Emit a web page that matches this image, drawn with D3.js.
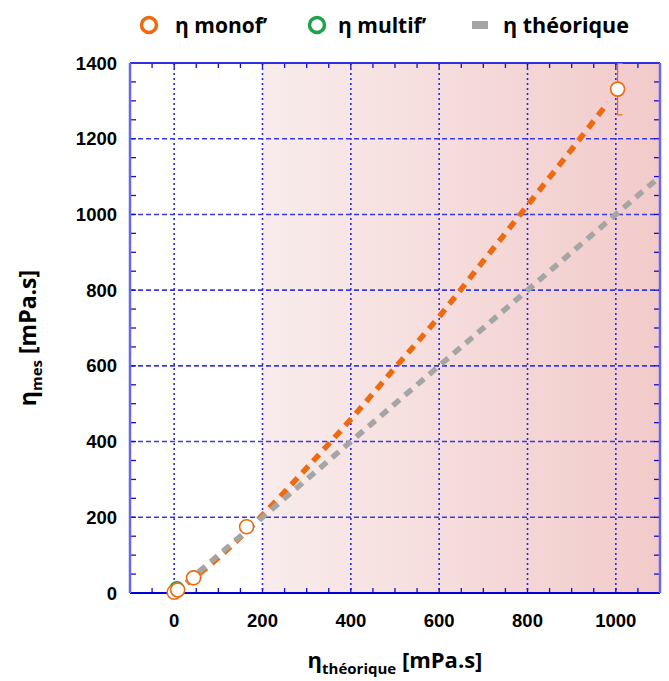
<!DOCTYPE html>
<html>
<head>
<meta charset="utf-8">
<script src="https://cdn.jsdelivr.net/npm/d3@7"></script>
<style>
  body { margin: 0; background: #fff; }
  text { font-family: "Liberation Sans", Arial, sans-serif; }
  .lbl { font-family: "Open Sans", "Noto Sans", sans-serif; font-weight: bold; }
</style>
</head>
<body>
<div id="chart"></div>
<script>
// fitted curve for monof'
var fitX = [0, 100, 200, 300, 400, 500, 600, 700, 800, 900, 982]
var fitY = [0, 93, 206, 330, 459, 595, 730, 877, 1024, 1172, 1295]
// theoretical line y = x
var theoX = [0, 1100]
var theoY = [0, 1100]
// measured points
var monoX = [0, 8, 44, 164, 1004]
var monoY = [2, 8, 40, 175, 1331]
var monoErr = [0, 0, 0, 0, 68]
var multiX = [6]
var multiY = [11]
var xTicks = [0, 200, 400, 600, 800, 1000]
var yTicks = [0, 200, 400, 600, 800, 1000, 1200, 1400]
var shadeFrom = 200

var W = 669, H = 681
var margin = {top: 63, right: 9, bottom: 88, left: 130},
  width = W - margin.left - margin.right,
  height = H - margin.top - margin.bottom

var svg = d3.select("#chart").append("svg")
  .attr("width", W).attr("height", H)

var defs = svg.append("defs")
var grad = defs.append("linearGradient").attr("id", "shade")
  .attr("x1", "0%").attr("x2", "100%").attr("y1", "0%").attr("y2", "0%")
grad.append("stop").attr("offset", "0%").attr("stop-color", "#f9ecec")
grad.append("stop").attr("offset", "100%").attr("stop-color", "#f2caca")
defs.append("clipPath").attr("id", "clip").append("rect")
  .attr("width", width).attr("height", height)

var g = svg.append("g")
  .attr("transform", "translate(" + margin.left + "," + margin.top + ")")

var x = d3.scaleLinear().domain([-100, 1100]).range([0, width])
var y = d3.scaleLinear().domain([0, 1400]).range([height, 0])

// shaded background
g.append("rect")
  .attr("x", x(shadeFrom)).attr("y", 0)
  .attr("width", x(1100) - x(shadeFrom)).attr("height", height)
  .style("fill", "url(#shade)")

// gridlines
g.selectAll(".vgrid").data(xTicks).enter().append("line")
  .attr("x1", d => x(d)).attr("x2", d => x(d))
  .attr("y1", 0).attr("y2", height)
  .style("stroke", "#2a2ad8").style("stroke-width", 1.6)
  .style("stroke-dasharray", "2,3")
g.selectAll(".hgrid").data(yTicks.filter(d => d > 0 && d < 1400)).enter().append("line")
  .attr("x1", 0).attr("x2", width)
  .attr("y1", d => y(d)).attr("y2", d => y(d))
  .style("stroke", "#3a3ae0").style("stroke-width", 1.6)
  .style("stroke-dasharray", "5,3")

// minor ticks
var xMinor = d3.range(-100, 1101, 50)
var yMinor = d3.range(0, 1401, 50)
g.selectAll(".xb").data(xMinor).enter().append("line")
  .attr("x1", d => x(d)).attr("x2", d => x(d))
  .attr("y1", height).attr("y2", height - 5)
  .style("stroke", "#1010d0").style("stroke-width", 1.3)
g.selectAll(".xt").data(xMinor).enter().append("line")
  .attr("x1", d => x(d)).attr("x2", d => x(d))
  .attr("y1", 0).attr("y2", 5)
  .style("stroke", "#1010d0").style("stroke-width", 1.3)
g.selectAll(".yl").data(yMinor).enter().append("line")
  .attr("x1", 0).attr("x2", 6)
  .attr("y1", d => y(d)).attr("y2", d => y(d))
  .style("stroke", "#1010d0").style("stroke-width", 1.3)
g.selectAll(".yr").data(yMinor).enter().append("line")
  .attr("x1", width).attr("x2", width - 6)
  .attr("y1", d => y(d)).attr("y2", d => y(d))
  .style("stroke", "#1010d0").style("stroke-width", 1.3)

// frame
g.append("line").attr("x1", 0).attr("x2", width).attr("y1", 0).attr("y2", 0)
  .style("stroke", "#3030e0").style("stroke-width", 2)
g.append("line").attr("x1", 0).attr("x2", width).attr("y1", height).attr("y2", height)
  .style("stroke", "#0000d8").style("stroke-width", 2)
g.append("line").attr("x1", 0).attr("x2", 0).attr("y1", 0).attr("y2", height)
  .style("stroke", "#6868ec").style("stroke-width", 2.5)
g.append("line").attr("x1", width).attr("x2", width).attr("y1", 0).attr("y2", height)
  .style("stroke", "#6868ec").style("stroke-width", 2.5)

var plot = g.append("g").attr("clip-path", "url(#clip)")
var line = d3.line().x(d => x(d[0])).y(d => y(d[1]))

plot.append("path")
  .datum(d3.zip(fitX, fitY))
  .attr("d", line.curve(d3.curveMonotoneX))
  .style("fill", "none").style("stroke", "#ee6a10").style("stroke-width", 5.5)
  .style("stroke-dasharray", "9,7")

plot.append("path")
  .datum(d3.zip(theoX, theoY))
  .attr("d", d3.line().x(d => x(d[0])).y(d => y(d[1])))
  .style("fill", "none").style("stroke", "#a5a5a5").style("stroke-width", 5.5)
  .style("stroke-dasharray", "9,7")

// error bars
var mono = monoX.map((d, i) => ({x: d, y: monoY[i], e: monoErr[i]}))
var eb = plot.selectAll(".eb").data(mono.filter(d => d.e > 0)).enter().append("g")
eb.append("line")
  .attr("x1", d => x(d.x)).attr("x2", d => x(d.x))
  .attr("y1", d => y(d.y - d.e)).attr("y2", d => y(d.y + d.e))
  .style("stroke", "#ee6a10").style("stroke-width", 1.2)
eb.selectAll(".cap").data(d => [d.y - d.e, d.y + d.e].map(v => ({x: d.x, v: v}))).enter()
  .append("line")
  .attr("x1", d => x(d.x)).attr("x2", d => x(d.x) + 5)
  .attr("y1", d => y(d.v)).attr("y2", d => y(d.v))
  .style("stroke", "#ee6a10").style("stroke-width", 1.2)

g.selectAll(".multi").data(d3.zip(multiX, multiY)).enter().append("circle")
  .attr("cx", d => x(d[0])).attr("cy", d => y(d[1])).attr("r", 7)
  .style("fill", "#fff").style("stroke", "#1fa34a").style("stroke-width", 1.6)
g.selectAll(".mono").data(mono).enter().append("circle")
  .attr("cx", d => x(d.x)).attr("cy", d => y(d.y)).attr("r", 7)
  .style("fill", "#fff").style("stroke", "#ee6a10").style("stroke-width", 1.6)

// tick labels
g.selectAll(".xl").data(xTicks).enter().append("text")
  .attr("x", d => x(d)).attr("y", height + 34)
  .attr("text-anchor", "middle")
  .style("font-size", "18.5px").style("font-weight", "bold")
  .text(d => d)
g.selectAll(".ylab").data(yTicks).enter().append("text")
  .attr("x", -13).attr("y", d => y(d) + 6.5)
  .attr("text-anchor", "end")
  .style("font-size", "18.5px").style("font-weight", "bold")
  .text(d => d)

// axis titles
var xt = svg.append("text").attr("class", "lbl")
  .attr("x", 395).attr("y", 668).attr("text-anchor", "middle")
  .style("font-size", "22px")
xt.append("tspan").text("η")
xt.append("tspan").attr("dy", 6).style("font-size", "15px").text("théorique")
xt.append("tspan").attr("dy", -6).text(" [mPa.s]")

var yt = svg.append("text").attr("class", "lbl")
  .attr("transform", "translate(36,338) rotate(-90)")
  .attr("text-anchor", "middle")
  .style("font-size", "23px")
yt.append("tspan").text("η")
yt.append("tspan").attr("dy", 6).style("font-size", "15px").text("mes")
yt.append("tspan").attr("dy", -6).text(" [mPa.s]")

// legend
var legend = svg.append("g")
legend.append("circle").attr("cx", 149).attr("cy", 25).attr("r", 7.5)
  .style("fill", "#fff").style("stroke", "#ee6a10").style("stroke-width", 3.5)
legend.append("text").attr("class", "lbl").attr("x", 175).attr("y", 33)
  .style("font-size", "21px").text("η monof’")
legend.append("circle").attr("cx", 317).attr("cy", 25).attr("r", 7.5)
  .style("fill", "#fff").style("stroke", "#1fa34a").style("stroke-width", 3.5)
legend.append("text").attr("class", "lbl").attr("x", 338).attr("y", 33)
  .style("font-size", "21px").text("η multif’")
legend.append("rect").attr("x", 472).attr("y", 21).attr("width", 16).attr("height", 8)
  .style("fill", "#a5a5a5")
legend.append("text").attr("class", "lbl").attr("x", 503).attr("y", 33)
  .style("font-size", "21.5px").text("η théorique")
</script>
</body>
</html>
